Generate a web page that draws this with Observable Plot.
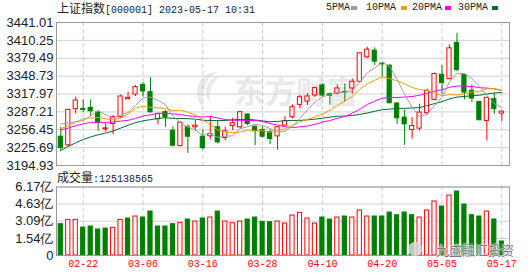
<!DOCTYPE html>
<html><head><meta charset="utf-8">
<script src="https://cdn.jsdelivr.net/npm/d3@7"></script>
<script src="https://cdn.jsdelivr.net/npm/@observablehq/plot@0.6"></script>
<style>
html,body{margin:0;padding:0;background:#fff;}
#wrap{position:relative;width:530px;height:276px;overflow:hidden;font-family:"Liberation Sans",Arial,sans-serif;color:#222;}
.abs{position:absolute;white-space:nowrap;line-height:14px;}
.cjk{font-family:"Noto Sans CJK SC",sans-serif;font-size:12px;}
.mono{font-family:"Liberation Mono","DejaVu Sans Mono",monospace;font-size:10px;}
.sq{position:absolute;width:6px;height:4px;}
#price,#vol{position:absolute;left:0;z-index:1;}
#price{top:0;} #vol{top:180px;}
.wm{position:absolute;z-index:0;font-family:"Noto Sans CJK SC",sans-serif;font-weight:bold;color:#e9e9e9;font-size:31px;line-height:31px;}
.arc{position:absolute;z-index:0;border-radius:50%;border-left:7px solid #e9e9e9;}
.top{z-index:2;}
</style></head><body>
<div id="wrap">
  <div class="arc" style="left:197px;top:72px;width:26px;height:38px;transform:rotate(20deg);"></div>
  <div class="arc" style="left:206px;top:76px;width:18px;height:28px;transform:rotate(20deg);border-left-width:5px;"></div>
  <div class="wm" style="left:234px;top:74px;">东方财富</div>
  <div id="price"></div>
  <div id="vol"></div>
  <div class="abs top" style="left:57px;top:1px;"><span class="cjk">上证指数</span><span class="mono">[000001] 2023-05-17 10:31</span></div>
  <div class="abs top mono" style="left:326px;top:1px;">5PMA</div>
  <div class="sq top" style="left:351px;top:6px;background:#9a9a9a;"></div>
  <div class="abs top mono" style="left:366px;top:1px;">10PMA</div>
  <div class="sq top" style="left:401px;top:6px;background:#f0a000;"></div>
  <div class="abs top mono" style="left:412px;top:1px;">20PMA</div>
  <div class="sq top" style="left:445px;top:6px;background:#ff00ff;"></div>
  <div class="abs top mono" style="left:458px;top:1px;">30PMA</div>
  <div class="sq top" style="left:492px;top:6px;background:#006d32;"></div>
  <div class="abs top" style="left:57px;top:170px;"><span class="cjk">成交量</span><span class="mono">:125138565</span></div>
  <div class="abs top" style="left:408px;top:242px;width:14px;height:14px;border-radius:7px;background:#d8d8d8;opacity:0.85;"></div>
  <div class="abs top cjk" style="left:436px;top:243px;font-size:13px;color:#7a7a7a;text-shadow:0 0 2px #fff,0 0 2px #fff,0 0 1px #fff;">九盛融汇投资</div>
</div>
<script>
// ---- data ----
const tickIndex = [3, 11, 19, 27, 35, 43, 51, 59];
const tickLabels = ["02-22", "03-06", "03-16", "03-28", "04-10", "04-20", "05-05", "05-17"];
const priceTicks = [3194.93, 3225.69, 3256.45, 3287.21, 3317.97, 3348.73, 3379.49, 3410.25, 3441.01];
const volTicks = [0, 1.54, 3.09, 4.63, 6.17];
const prevClose = 3249.0;

const open = [3244.5,3229.6,3291.8,3292.3,3294.1,3286.0,3257.2,3266.4,3278.0,3309.0,
  3317.1,3333.8,3321.1,3274.5,3286.6,3254.9,3228.4,3260.7,3260.7,3244.5,
  3245.1,3260.7,3242.2,3263.0,3260.7,3282.6,3261.8,3256.0,3252.0,3245.0,
  3263.5,3278.0,3299.3,3305.0,3315.4,3332.7,3317.7,3318.8,3321.6,3327.5,
  3339.0,3381.0,3392.6,3370.3,3366.7,3301.6,3277.4,3256.1,3258.4,3284.9,
  3307.9,3351.1,3343.6,3405.8,3350.5,3323.5,3304.4,3271.6,3309.0,3284.3];
const high = [3260.7,3291.8,3312.5,3307.9,3307.9,3289.5,3266.4,3280.8,3316.0,3321.1,
  3332.7,3337.3,3345.9,3284.9,3289.5,3261.8,3269.5,3264.7,3272.2,3256.0,
  3279.1,3272.2,3260.7,3276.2,3288.0,3283.7,3262.0,3261.8,3256.0,3261.8,
  3279.1,3299.3,3315.4,3318.3,3329.8,3335.5,3318.8,3333.2,3335.0,3343.6,
  3388.0,3398.3,3397.2,3372.4,3367.9,3303.3,3290.6,3277.4,3300.4,3326.3,
  3354.0,3366.7,3402.4,3422.5,3352.3,3333.2,3305.0,3311.4,3319.4,3288.9];
const low = [3220.3,3227.3,3283.7,3286.0,3279.1,3253.8,3252.0,3248.0,3275.1,3307.9,
  3313.7,3312.5,3284.9,3264.7,3260.7,3227.0,3227.0,3215.7,3253.8,3221.5,
  3238.8,3231.9,3237.6,3254.9,3258.0,3263.5,3229.0,3242.2,3230.7,3221.5,
  3263.0,3275.1,3292.3,3298.1,3312.5,3312.5,3298.7,3316.0,3303.3,3317.7,
  3337.8,3379.3,3366.7,3346.5,3301.0,3265.8,3229.6,3240.0,3254.3,3281.4,
  3306.2,3317.7,3342.5,3356.3,3307.9,3303.3,3272.0,3237.0,3283.1,3271.0];
const close = [3224.9,3290.6,3306.7,3290.6,3288.3,3268.7,3258.9,3278.0,3313.7,3311.4,
  3329.8,3322.3,3286.6,3283.7,3278.0,3229.0,3268.7,3244.5,3263.5,3224.9,
  3249.1,3234.7,3253.8,3267.6,3286.6,3266.4,3253.8,3244.5,3240.5,3260.7,
  3271.0,3295.2,3312.5,3313.7,3328.1,3315.4,3315.0,3327.5,3320.5,3339.0,
  3388.0,3394.3,3373.6,3369.0,3302.1,3276.2,3265.8,3263.0,3286.0,3323.5,
  3352.3,3336.7,3396.6,3359.2,3320.5,3310.2,3272.8,3311.4,3291.8,3287.7];
const volume = [2.82,3.21,3.21,2.52,2.61,2.34,2.43,2.49,3.21,3.33,
  3.51,3.42,3.96,2.61,2.61,2.82,2.94,3.24,3.06,3.33,
  3.42,3.96,3.06,2.91,3.06,3.24,3.42,3.03,3.00,3.06,
  2.88,3.60,3.84,3.33,2.88,3.42,3.24,3.42,3.51,3.42,
  4.05,3.51,3.51,3.51,3.87,3.63,3.87,3.63,3.42,4.05,
  4.86,4.41,5.40,5.76,4.59,3.63,3.51,3.96,3.24,1.26];
const ma5 = [3266.4,3267.7,3270.3,3272.4,3280.2,3289.0,3282.6,3276.9,3281.5,3286.1,
  3298.4,3311.0,3312.8,3306.8,3300.1,3279.9,3269.2,3260.8,3256.7,3246.1,
  3250.1,3243.3,3245.2,3246.0,3258.4,3261.8,3265.6,3263.8,3258.4,3253.2,
  3254.1,3262.4,3276.0,3290.6,3304.1,3313.0,3317.0,3320.0,3321.4,3323.6,
  3338.1,3353.9,3363.1,3372.8,3365.4,3343.0,3317.3,3295.2,3278.6,3282.9,
  3298.1,3312.3,3339.0,3353.7,3353.1,3344.6,3331.9,3314.8,3301.3,3294.8];
const ma10 = [3258.2,3263.4,3269.2,3275.1,3276.9,3277.7,3275.2,3273.6,3277.0,3283.2,
  3293.7,3296.8,3294.9,3294.2,3293.1,3289.2,3290.1,3286.8,3281.8,3273.1,
  3265.0,3256.3,3253.0,3251.4,3252.3,3256.0,3254.5,3254.5,3252.2,3255.8,
  3258.0,3264.0,3269.9,3274.5,3278.7,3283.6,3289.7,3298.0,3306.0,3313.9,
  3325.6,3335.5,3341.6,3347.1,3344.5,3340.6,3335.6,3329.2,3325.7,3324.2,
  3320.6,3314.8,3317.1,3316.2,3318.0,3321.4,3322.1,3326.9,3327.5,3324.0];
const ma20 = [3256.1,3259.3,3263.4,3266.7,3269.1,3269.3,3268.8,3269.9,3271.4,3272.6,
  3276.0,3280.1,3282.1,3284.7,3285.0,3283.5,3282.7,3280.2,3279.4,3278.2,
  3279.4,3276.6,3274.0,3272.8,3272.7,3272.6,3272.3,3270.7,3267.0,3264.5,
  3261.5,3260.2,3261.5,3263.0,3265.5,3269.8,3272.1,3276.3,3279.1,3284.9,
  3291.8,3299.8,3305.8,3310.8,3311.6,3312.1,3312.7,3313.6,3315.9,3319.1,
  3323.1,3325.2,3329.4,3331.7,3331.3,3331.0,3328.9,3328.1,3326.6,3324.1];
const ma30 = [3221.0,3227.7,3234.0,3239.6,3244.1,3247.8,3250.6,3254.2,3259.2,3264.1,
  3268.6,3271.8,3273.9,3275.9,3277.1,3275.9,3275.9,3275.5,3274.8,3272.8,
  3272.3,3272.2,3272.4,3273.6,3274.1,3274.3,3273.3,3271.6,3270.3,3270.7,
  3272.2,3272.4,3272.6,3273.4,3274.7,3276.3,3278.1,3279.8,3280.0,3280.9,
  3282.9,3285.3,3288.2,3291.0,3291.8,3293.4,3293.3,3293.9,3294.6,3298.0,
  3301.4,3304.8,3309.5,3312.6,3313.7,3315.2,3315.8,3318.0,3319.7,3320.7];

// ---- build ----
const RED = "#ff0000", GREEN = "#008000";
const half = 0.28;
const xDomain = [-0.575, 60.03];
const candles = close.map((c, i) => ({i, o: open[i], h: high[i], l: low[i], c, up: c >= open[i]}));
const vols = volume.map((v, i) => ({i, v, up: close[i] >= (i ? close[i - 1] : prevClose)}));
const mas = [
  {vals: ma30, color: "#006d32"},
  {vals: ma20, color: "#ff00ff"},
  {vals: ma10, color: "#f0a000"},
  {vals: ma5, color: "#a0a0a0"}
];
const mono = "Liberation Mono, DejaVu Sans Mono, monospace";
const baseStyle = {background: "transparent", overflow: "visible", fontFamily: "Liberation Sans, Arial, sans-serif", fontSize: "13px", color: "#222"};

const price = Plot.plot({
  width: 530, height: 168,
  marginLeft: 56, marginRight: 21, marginTop: 22, marginBottom: 3,
  style: baseStyle,
  x: {type: "linear", domain: xDomain, axis: null, label: null},
  y: {domain: [priceTicks[0], priceTicks[priceTicks.length - 1]], axis: null, label: null},
  color: {type: "identity"},
  marks: [
    Plot.ruleY(priceTicks, {stroke: "#d0d0d0"}),
    Plot.ruleX(tickIndex, {stroke: "#c8c8c8", strokeDasharray: "4,3"}),
    Plot.axisY({ticks: priceTicks, tickSize: 0, tickPadding: 3, tickFormat: d => d.toFixed(2), fontSize: 13, label: null}),
    Plot.ruleX(candles, {x: "i", y1: "l", y2: "h", stroke: d => d.up ? RED : GREEN}),
    Plot.rect(candles, {x1: d => d.i - half, x2: d => d.i + half, y1: "o", y2: "c",
      fill: d => d.up ? "#ffffff" : GREEN, stroke: d => d.up ? RED : GREEN}),
    ...mas.map(m => Plot.line(m.vals, {x: (d, i) => i, y: d => d, stroke: m.color, strokeWidth: 1})),
    Plot.frame({stroke: "#999"})
  ]
});
document.getElementById("price").appendChild(price);

const vol = Plot.plot({
  width: 530, height: 96,
  marginLeft: 56, marginRight: 21, marginTop: 6.5, marginBottom: 21,
  style: baseStyle,
  x: {type: "linear", domain: xDomain, axis: null, label: null},
  y: {domain: [0, volTicks[volTicks.length - 1]], axis: null, label: null},
  color: {type: "identity"},
  marks: [
    Plot.ruleY(volTicks, {stroke: "#d0d0d0"}),
    Plot.ruleX(tickIndex, {stroke: "#c8c8c8", strokeDasharray: "4,3"}),
    Plot.rect(vols, {x1: d => d.i - half, x2: d => d.i + half, y1: 0, y2: "v",
      fill: d => d.up ? "#ffffff" : GREEN, stroke: d => d.up ? RED : GREEN}),
    Plot.axisY({ticks: volTicks, tickSize: 0, tickPadding: 3, tickFormat: d => d === 0 ? "0" : d.toFixed(2) + "亿", fontSize: 13, label: null}),
    Plot.text(tickIndex, {x: d => d, frameAnchor: "bottom", dy: 11, text: (d, k) => tickLabels[k],
      fill: RED, fontFamily: mono, fontSize: 10}),
    Plot.frame({stroke: "#999"})
  ]
});
document.getElementById("vol").appendChild(vol);
</script>
</body></html>
